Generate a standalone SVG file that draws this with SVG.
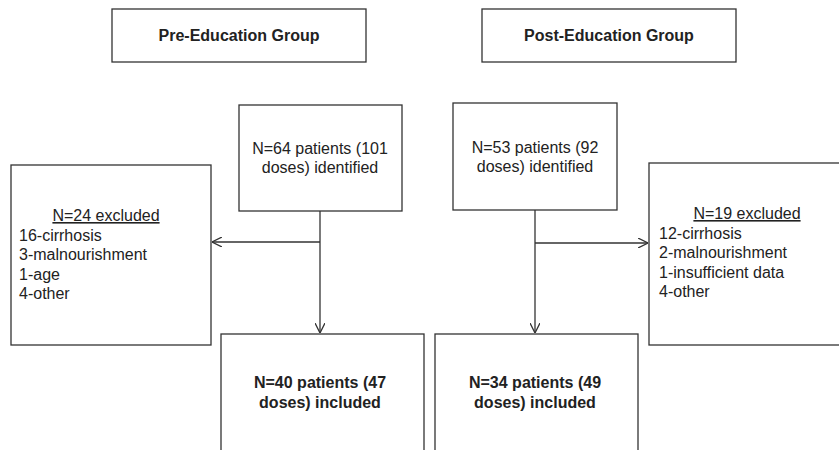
<svg xmlns="http://www.w3.org/2000/svg" width="839" height="450" viewBox="0 0 839 450">
<style>
.box{fill:#fff;stroke:#333;stroke-width:1.3}
.t{font-family:"Liberation Sans",Arial,sans-serif;font-size:16px;fill:#222}
.b{font-family:"Liberation Sans",Arial,sans-serif;font-weight:bold;fill:#222}
.c{stroke:#333;stroke-width:1.3;fill:none}
</style>
<defs>
<marker id="arr" viewBox="0 0 10 10" refX="10" refY="5" markerWidth="10" markerHeight="10" markerUnits="userSpaceOnUse" orient="auto">
<path d="M0,0 L10,5 L0,10" fill="none" stroke="#333" stroke-width="1.3"/>
</marker>
</defs>
<rect width="839" height="450" fill="#fff"/>
<g id="pre-title">
<rect class="box" x="112" y="9" width="254" height="53"/>
<text class="b" x="239" y="41" font-size="16" text-anchor="middle">Pre-Education Group</text>
</g>
<g id="post-title">
<rect class="box" x="482" y="9" width="254" height="53"/>
<text class="b" x="609" y="41" font-size="16" text-anchor="middle">Post-Education Group</text>
</g>
<g id="pre-identified">
<rect class="box" x="239" y="105" width="163" height="106"/>
<text class="t" x="320" y="154" text-anchor="middle">N=64 patients (101</text>
<text class="t" x="320" y="173" text-anchor="middle">doses) identified</text>
</g>
<g id="post-identified">
<rect class="box" x="453" y="103" width="164" height="107"/>
<text class="t" x="535" y="153" text-anchor="middle">N=53 patients (92</text>
<text class="t" x="535" y="172" text-anchor="middle">doses) identified</text>
</g>
<g id="pre-excluded">
<rect class="box" x="11" y="165" width="200" height="180"/>
<text class="t" x="106" y="221" text-anchor="middle" text-decoration="underline">N=24 excluded</text>
<text class="t" x="19" y="241">16-cirrhosis</text>
<text class="t" x="19" y="260">3-malnourishment</text>
<text class="t" x="19" y="280">1-age</text>
<text class="t" x="19" y="299">4-other</text>
</g>
<g id="post-excluded">
<rect class="box" x="649" y="163" width="200" height="182"/>
<text class="t" x="747" y="219" text-anchor="middle" text-decoration="underline">N=19 excluded</text>
<text class="t" x="659" y="239">12-cirrhosis</text>
<text class="t" x="659" y="258">2-malnourishment</text>
<text class="t" x="659" y="278">1-insufficient data</text>
<text class="t" x="659" y="297">4-other</text>
</g>
<g id="pre-included">
<rect class="box" x="221" y="334" width="203" height="130"/>
<text class="b" x="320" y="388" font-size="16" text-anchor="middle">N=40 patients (47</text>
<text class="b" x="320" y="408" font-size="16" text-anchor="middle">doses) included</text>
</g>
<g id="post-included">
<rect class="box" x="435" y="334" width="203" height="130"/>
<text class="b" x="535" y="388" font-size="16" text-anchor="middle">N=34 patients (49</text>
<text class="b" x="535" y="408" font-size="16" text-anchor="middle">doses) included</text>
</g>
<g id="connectors">
<line class="c" x1="320" y1="211" x2="320" y2="333" marker-end="url(#arr)"/>
<line class="c" x1="320" y1="242" x2="212" y2="242" marker-end="url(#arr)"/>
<line class="c" x1="535" y1="210" x2="535" y2="333" marker-end="url(#arr)"/>
<line class="c" x1="535" y1="243" x2="648" y2="243" marker-end="url(#arr)"/>
</g>
</svg>
